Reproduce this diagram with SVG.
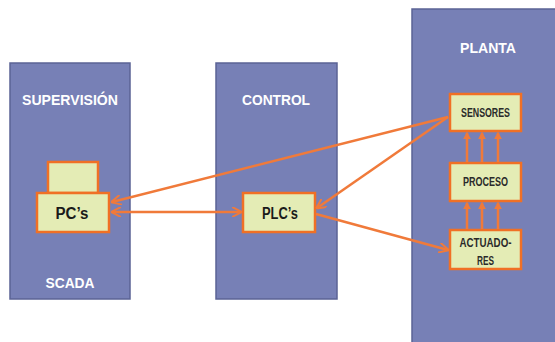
<svg xmlns="http://www.w3.org/2000/svg" width="555" height="342" viewBox="0 0 555 342">
<style>
.panel{fill:#7780b6;stroke:#5b6395;stroke-width:1.5}
.box{fill:#e4ecb5;stroke:#f07025;stroke-width:2.5}
.title{font-family:"Liberation Sans",Arial,sans-serif;font-weight:bold;font-size:15px;fill:#ffffff;text-anchor:middle}
.lbl{font-family:"Liberation Sans",Arial,sans-serif;font-weight:bold;font-size:16px;fill:#1a1a1a;text-anchor:middle}
.sm{font-family:"Liberation Sans",Arial,sans-serif;font-weight:bold;font-size:12px;fill:#2a2a2a;text-anchor:middle}
.con{stroke:#f07a3a;stroke-width:2.5;fill:none}
</style>
<defs>
<marker id="ah" viewBox="0 0 10 10" refX="9" refY="5" markerWidth="4" markerHeight="4" orient="auto-start-reverse" markerUnits="strokeWidth">
<path d="M0,0 L10,5 L0,10" fill="none" stroke="#f07a3a" stroke-width="2"/>
</marker>
<marker id="af" viewBox="0 0 10 10" refX="8" refY="5" markerWidth="3.2" markerHeight="3.2" orient="auto" markerUnits="strokeWidth">
<path d="M0,0 L10,5 L0,10 Z" fill="#f07a3a"/>
</marker>
</defs>
<rect width="555" height="342" fill="#ffffff"/>
<g id="supervision">
<rect class="panel" x="10" y="63" width="120" height="236"/>
<text class="title" x="70" y="105" textLength="96" lengthAdjust="spacingAndGlyphs">SUPERVISIÓN</text>
<text class="title" x="70" y="288" textLength="49" lengthAdjust="spacingAndGlyphs">SCADA</text>
</g>
<g id="control">
<rect class="panel" x="216" y="63" width="121" height="236"/>
<text class="title" x="276" y="105" textLength="68" lengthAdjust="spacingAndGlyphs">CONTROL</text>
</g>
<g id="planta">
<rect class="panel" x="412" y="9" width="150" height="340"/>
<text class="title" x="488" y="53" textLength="56" lengthAdjust="spacingAndGlyphs">PLANTA</text>
</g>
<g id="pc-top">
<rect class="box" x="48" y="162" width="50" height="31"/>
</g>
<g id="pcs">
<rect class="box" x="37" y="193" width="72" height="39"/>
<text class="lbl" x="72" y="219" textLength="33" lengthAdjust="spacingAndGlyphs">PC’s</text>
</g>
<g id="plcs">
<rect class="box" x="243" y="193" width="72" height="39"/>
<text class="lbl" x="280" y="219" textLength="36" lengthAdjust="spacingAndGlyphs">PLC’s</text>
</g>
<g id="sensores">
<rect class="box" x="450" y="94" width="71" height="37"/>
<text class="sm" x="485.5" y="117" textLength="49" lengthAdjust="spacingAndGlyphs">SENSORES</text>
</g>
<g id="proceso">
<rect class="box" x="450" y="163" width="71" height="38"/>
<text class="sm" x="485.5" y="186" textLength="45" lengthAdjust="spacingAndGlyphs">PROCESO</text>
</g>
<g id="actuadores">
<rect class="box" x="450" y="230" width="71" height="39"/>
<text class="sm" x="485.5" y="247" textLength="52" lengthAdjust="spacingAndGlyphs">ACTUADO-</text>
<text class="sm" x="485.5" y="265" textLength="17" lengthAdjust="spacingAndGlyphs">RES</text>
</g>
<g id="connectors">
<line class="con" x1="448" y1="117" x2="112" y2="202" marker-end="url(#ah)"/>
<line class="con" x1="112" y1="212" x2="241" y2="212" marker-start="url(#ah)" marker-end="url(#ah)"/>
<line class="con" x1="448" y1="117" x2="317" y2="208" marker-end="url(#ah)"/>
<line class="con" x1="316" y1="214" x2="448" y2="250" marker-end="url(#ah)"/>
<line class="con" x1="467" y1="162" x2="467" y2="133" marker-end="url(#af)"/>
<line class="con" x1="482" y1="162" x2="482" y2="133" marker-end="url(#af)"/>
<line class="con" x1="498" y1="162" x2="498" y2="133" marker-end="url(#af)"/>
<line class="con" x1="467" y1="229" x2="467" y2="203" marker-end="url(#af)"/>
<line class="con" x1="482" y1="229" x2="482" y2="203" marker-end="url(#af)"/>
<line class="con" x1="498" y1="229" x2="498" y2="203" marker-end="url(#af)"/>
</g>
</svg>
